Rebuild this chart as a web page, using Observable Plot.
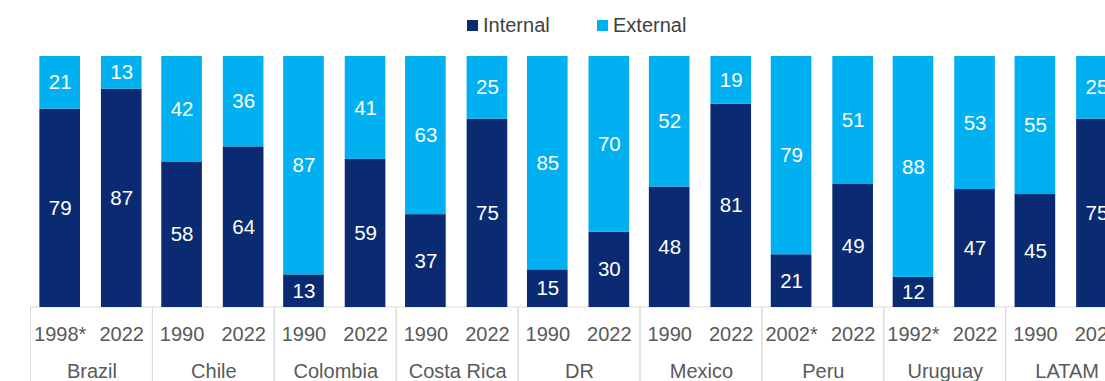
<!DOCTYPE html>
<html>
<head>
<meta charset="utf-8">
<script src="https://cdn.jsdelivr.net/npm/d3@7"></script>
<script src="https://cdn.jsdelivr.net/npm/@observablehq/plot@0.6"></script>
<style>
  html, body { margin: 0; padding: 0; background: #fff; overflow: hidden; width: 1105px; height: 381px; }
  #legend { height: 45px; position: relative; font-family: "Liberation Sans", Arial, sans-serif; font-size: 20px; color: #404040; }
  #legend .item { position: absolute; top: 13px; display: flex; align-items: center; line-height: 24px; }
  #legend .sw { width: 11px; height: 11px; margin-right: 5px; }
  #chart svg { max-width: none !important; }
</style>
</head>
<body>
<div id="legend"></div>
<div id="chart"></div>
<script>
const countries = ["Brazil", "Chile", "Colombia", "Costa Rica", "DR", "Mexico", "Peru", "Uruguay", "LATAM"];
const firstYears = ["1998*", "1990", "1990", "1990", "1990", "1990", "2002*", "1992*", "1990"];
const secondYears = ["2022", "2022", "2022", "2022", "2022", "2022", "2022", "2022", "2022"];
const internalFirst = [79, 58, 13, 37, 15, 48, 21, 12, 45];
const externalFirst = [21, 42, 87, 63, 85, 52, 79, 88, 55];
const internalSecond = [87, 64, 59, 75, 30, 81, 49, 47, 75];
const externalSecond = [13, 36, 41, 25, 70, 19, 51, 53, 25];
const series = ["Internal", "External"];
const colors = ["#0a2a72", "#00b0f0"];

const rows = [];
const years = [];
countries.forEach((c, i) => {
  years.push({country: c, slot: "a", year: firstYears[i]});
  years.push({country: c, slot: "b", year: secondYears[i]});
  rows.push({country: c, slot: "a", type: "Internal", value: internalFirst[i]});
  rows.push({country: c, slot: "a", type: "External", value: externalFirst[i]});
  rows.push({country: c, slot: "b", type: "Internal", value: internalSecond[i]});
  rows.push({country: c, slot: "b", type: "External", value: externalSecond[i]});
});

// legend
const legend = document.getElementById("legend");
const legendX = [467, 597];
series.forEach((s, i) => {
  const it = document.createElement("div");
  it.className = "item";
  it.style.left = legendX[i] + "px";
  it.innerHTML = `<span class="sw" style="background:${colors[i]}"></span><span>${s}</span>`;
  legend.appendChild(it);
});

const plot = Plot.plot({
  width: 1140,
  height: 336,
  marginTop: 11,
  marginBottom: 74,
  marginLeft: 30.5,
  marginRight: 12.4,
  style: {fontFamily: "'Liberation Sans', Arial, sans-serif", fontSize: "20px", background: "#fff", overflow: "visible", maxWidth: "none"},
  fx: {domain: countries, padding: 0, round: false, axis: null},
  x: {domain: ["a", "b"], paddingInner: 0.34, paddingOuter: 0.16, align: 0.45, round: false, axis: null},
  y: {domain: [0, 100], axis: null},
  color: {domain: series, range: colors},
  marks: [
    Plot.rect(countries, {fx: d => d, y1: 0, y2: -33, fill: "none", stroke: "#d9d9d9", strokeWidth: 1}),
    Plot.barY(rows, {fx: "country", x: "slot", y: "value", fill: "type", order: series}),
    Plot.text(rows, Plot.stackY({fx: "country", x: "slot", y: "value", z: "type", order: series, text: d => String(d.value), fill: "white", fontSize: 20.5})),
    Plot.text(years, {fx: "country", x: "slot", text: "year", frameAnchor: "bottom", dy: 33, fill: "#595959", fontSize: 20})
    ,
    Plot.text(countries, {fx: d => d, text: d => d, frameAnchor: "bottom", dy: 70, fill: "#595959", fontSize: 20})
  ]
});
document.getElementById("chart").appendChild(plot);
</script>
</body>
</html>
